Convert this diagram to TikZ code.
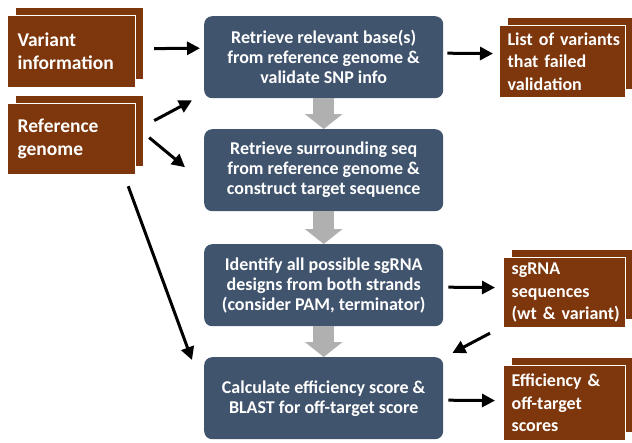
\documentclass[tikz,border=0pt]{standalone}
\usepackage{fontspec}
\setmainfont{Carlito}
\usetikzlibrary{arrows.meta,shadows}
\definecolor{brownbox}{HTML}{7E370C}
\definecolor{bluebox}{HTML}{41546E}
\definecolor{grayarrow}{HTML}{B0B0B0}
\tikzset{
  stack/.style={fill=brownbox, draw=white, line width=1.2pt, text=white,
    font=\bfseries\fontsize{18}{22.5}\selectfont, align=left, anchor=north west,
    inner xsep=8pt, inner ysep=0pt, rectangle,
    copy shadow={shadow xshift=8pt, shadow yshift=8pt}},
  stepbox/.style={fill=bluebox, draw=none, rounded corners=8pt, text=white,
    font=\bfseries\fontsize{18}{20}\selectfont, align=center, anchor=north west,
    minimum width=239pt, minimum height=82pt, inner sep=0pt},
  blk/.style={line width=3pt, black, -{Triangle[width=13pt,length=13pt]}},
  bigarrow/.style={line width=21pt, grayarrow, -{Triangle[width=37pt,length=15pt]}}
}
\begin{document}
\begin{tikzpicture}[x=1pt,y=-1pt]
\useasboundingbox[fill=white] (0,0) rectangle (632,442);
% brown stacked boxes
\node[stack, font=\bfseries\fontsize{19.5}{23}\selectfont, inner xsep=10pt, text width=108pt, minimum height=72pt] (v) at (7,15) {\mbox{Variant}\\\mbox{information}};
\node[stack, font=\bfseries\fontsize{19.5}{23}\selectfont, inner xsep=10pt, text width=108pt, minimum height=71pt] (r) at (7,103) {\mbox{Reference}\\\mbox{genome}};
\node[stack, text width=110pt, minimum height=72pt] (l) at (499,25) {\mbox{List of variants}\\\mbox{that failed}\\\mbox{validation}};
\node[stack, text width=106pt, minimum height=70pt] (sg) at (503,257) {\mbox{sgRNA}\\\mbox{sequences}\\\mbox{(wt \& variant)}};
\node[stack, text width=106pt, minimum height=75pt] (eff) at (503,365) {\mbox{Efficiency \&}\\\mbox{off-target}\\\mbox{scores}};
% blue step boxes
\node[stepbox] (b1) at (204,16) {Retrieve relevant base(s)\\from reference genome \&\\validate SNP info};
\node[stepbox] (b2) at (204,129) {Retrieve surrounding seq\\from reference genome \&\\construct target sequence};
\node[stepbox] (b3) at (204,244) {Identify all possible sgRNA\\designs from both strands\\(consider PAM, terminator)};
\node[stepbox] (b4) at (204,357) {Calculate efficiency score \&\\BLAST for off-target score};
% gray block arrows
\draw[bigarrow] (b1.south) -- (b2.north);
\draw[bigarrow] (b2.south) -- (b3.north);
\draw[bigarrow] (b3.south) -- (b4.north);
% black arrows
\draw[blk] ([xshift=18pt,yshift=3pt]v.east) -- ([xshift=-4pt,yshift=9pt]b1.west);
\draw[blk] ([xshift=4pt,yshift=4pt]b1.east) -- ([xshift=-6pt,yshift=8pt]l.west);
\draw[blk] ([xshift=18pt,yshift=18.5pt]r.east) -- ([xshift=-12pt,yshift=-2pt]b1.south west);
\draw[blk] ([xshift=13pt,yshift=1.5pt]r.east) -- ([xshift=-19pt,yshift=3pt]b2.west);
\draw[blk] ([xshift=-8pt,yshift=-11pt]r.south east) -- ([xshift=-12pt,yshift=-3pt]b4.north west);
\draw[blk] ([xshift=5pt,yshift=-2pt]b3.east) -- ([xshift=-8pt,yshift=5pt]sg.west);
\draw[blk] ([xshift=5pt,yshift=-2pt]b4.east) -- ([xshift=-8pt,yshift=2.5pt]eff.west);
\draw[blk] ([xshift=-13pt,yshift=-5pt]sg.south west) -- ([xshift=9pt,yshift=4pt]b4.north east);
\end{tikzpicture}
\end{document}
